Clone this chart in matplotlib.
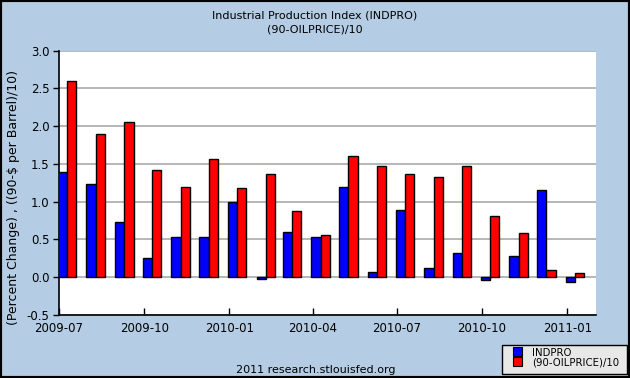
import numpy as np
import matplotlib
matplotlib.use("Agg")
import matplotlib.pyplot as plt
import matplotlib.dates as mdates
from matplotlib.patches import Rectangle
import datetime as dt

months = ["2009-07", "2009-08", "2009-09", "2009-10", "2009-11", "2009-12",
          "2010-01", "2010-02", "2010-03", "2010-04", "2010-05", "2010-06",
          "2010-07", "2010-08", "2010-09", "2010-10", "2010-11", "2010-12",
          "2011-01"]
indpro = [1.39, 1.23, 0.73, 0.26, 0.53, 0.53, 1.00, -0.03, 0.60, 0.53,
          1.20, 0.07, 0.89, 0.12, 0.32, -0.04, 0.28, 1.16, -0.06]
oil = [2.59, 1.89, 2.05, 1.42, 1.19, 1.57, 1.18, 1.36, 0.87, 0.56,
       1.61, 1.47, 1.36, 1.32, 1.47, 0.81, 0.58, 0.09, 0.05]
tick_labels = ["2009-07", "2009-10", "2010-01", "2010-04", "2010-07", "2010-10", "2011-01"]
series_names = ["INDPRO", "(90-OILPRICE)/10"]
colors = ["#0000ff", "#ff0000"]

bg = "#b4cde4"
W, H = 630, 378
fig = plt.figure(figsize=(6.3, 3.78), dpi=100, facecolor=bg)
ax = fig.add_axes([59 / W, 63 / H, 537 / W, 264.5 / H])

dates = [dt.datetime.strptime(m, "%Y-%m") for m in months]
x = mdates.date2num(dates)
w = 10.0
ax.bar(x - 1.5, indpro, width=w, align="edge", color=colors[0], edgecolor="black", linewidth=1.0, zorder=3)
ax.bar(x - 1.5 + w, oil, width=w, align="edge", color=colors[1], edgecolor="black", linewidth=1.0, zorder=3)

ax.set_xlim(mdates.date2num(dt.datetime(2009, 7, 1)), mdates.date2num(dt.datetime(2011, 2, 1)))
ax.set_ylim(-0.5, 3.0)
yt = np.arange(-0.5, 3.01, 0.5)
ax.set_yticks(yt)
ax.set_yticklabels(["%.1f" % v for v in yt], fontsize=8.5)
ticks = [mdates.date2num(dt.datetime.strptime(t, "%Y-%m")) for t in tick_labels]
ax.set_xticks(ticks)
ax.set_xticklabels(tick_labels, fontsize=8.5)
ax.tick_params(axis="x", direction="in", length=5, width=1, pad=5)
ax.tick_params(axis="y", direction="out", length=4, width=1, pad=3)
ax.grid(axis="y", color="#aaaaaa", linewidth=1.2, zorder=0)
for s in ["top", "right"]:
    ax.spines[s].set_visible(False)
for s in ["left", "bottom"]:
    ax.spines[s].set_linewidth(1.2)

ax.set_ylabel("(Percent Change) , ((90-$ per Barrel)/10)", fontsize=9)
ax.yaxis.set_label_coords(-0.073, 0.446)

fig.text(0.5, 1 - 16 / H, "Industrial Production Index (INDPRO)", ha="center", va="center", fontsize=8)
fig.text(0.5, 1 - 30 / H, "(90-OILPRICE)/10", ha="center", va="center", fontsize=8)
fig.text(316 / W, 1 - 370 / H, "2011 research.stlouisfed.org", ha="center", va="center", fontsize=8)

# legend box drawn by hand, bottom right
fig.patches.append(Rectangle((502 / W, 1 - 374 / H), 125 / W, 29 / H, transform=fig.transFigure,
                             facecolor="#e8e8e8", edgecolor="black", linewidth=1.0))
for i, (name, c) in enumerate(zip(series_names, colors)):
    top = 347 + i * 10
    fig.patches.append(Rectangle((513 / W, 1 - (top + 9) / H), 9 / W, 9 / H, transform=fig.transFigure,
                                 facecolor=c, edgecolor="black", linewidth=0.8))
    fig.text(532 / W, 1 - (top + 5.5) / H, name, ha="left", va="center", fontsize=7.3)

fig.patches.append(Rectangle((0, 0), 1, 1, transform=fig.transFigure, fill=False,
                             edgecolor="black", linewidth=3))

fig.savefig("out.png", dpi=100, facecolor=bg)
